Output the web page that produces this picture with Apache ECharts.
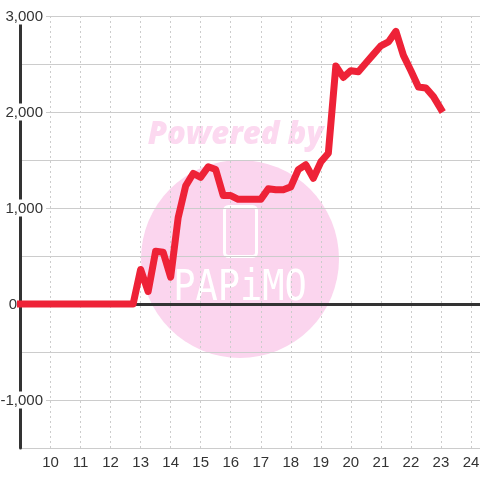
<!DOCTYPE html>
<html>
<head>
<meta charset="utf-8">
<style>html,body{margin:0;padding:0;background:#fff}#c{width:480px;height:480px}</style>
<script src="https://cdn.jsdelivr.net/npm/echarts@6/dist/echarts.min.js"></script>
</head>
<body>
<div id="c"></div>
<script>
const hours = [9,9.25,9.5,9.75,10,10.25,10.5,10.75,11,11.25,11.5,11.75,12,12.25,12.5,12.75,13,13.25,13.5,13.75,14,14.25,14.5,14.75,15,15.25,15.5,15.75,16,16.25,16.5,16.75,17,17.25,17.5,17.75,18,18.25,18.5,18.75,19,19.25,19.5,19.75,20,20.25,20.5,20.75,21,21.25,21.5,21.75,22,22.25,22.5,22.75,23];
const values = [0,0,0,0,0,0,0,0,0,0,0,0,0,0,0,0,360,130,550,540,280,900,1230,1360,1320,1430,1400,1130,1130,1090,1090,1090,1090,1200,1190,1190,1220,1400,1450,1310,1480,1570,2480,2360,2430,2420,2510,2600,2690,2730,2840,2590,2430,2260,2250,2160,2030];
const yTickLabels = [-1000,0,1000,2000,3000];
const xTickLabels = [10,11,12,13,14,15,16,17,18,19,20,21,22,23,24];
const labelFont = {color:'#333',fontFamily:'Liberation Sans',fontSize:15};
const chart = echarts.init(document.getElementById('c'), null, {renderer:'canvas'});
chart.setOption({
  animation:false,
  backgroundColor:'#fff',
  grid:{left:20.5,right:0,top:16,bottom:32,containLabel:false,outerBoundsMode:'none'},
  graphic:[
    {type:'circle',z:0,silent:true,shape:{cx:240,cy:259,r:99},style:{fill:'#fbd5ee'}},
    {type:'text',z:0,silent:true,x:235.5,y:135,style:{text:'Powered by',font:'italic 800 31px "Open Sans"',fill:'#fcd9f0',align:'center',verticalAlign:'middle'}},
    {type:'rect',z:0,silent:true,shape:{x:224.5,y:206.5,width:32,height:50,r:4},style:{fill:'none',stroke:'#fff',lineWidth:3}},
    {type:'text',z:0,silent:true,x:240,y:289,scaleY:1.15,style:{text:'PAPiMO',font:'37px "DejaVu Sans Mono"',fill:'#fff',align:'center',verticalAlign:'middle'}}
  ],
  xAxis:{type:'value',min:9,max:24.3,interval:1,
    axisLine:{show:false},axisTick:{show:false},
    axisLabel:{customValues:xTickLabels,color:'#333',fontFamily:'Liberation Sans',fontSize:15,margin:7},
    splitLine:{show:false}},
  yAxis:{type:'value',min:-1500,max:3000,interval:500,
    axisLine:{show:true,onZero:false,lineStyle:{color:'#333',width:3}},axisTick:{show:false},
    axisLabel:{inside:true,align:'right',margin:25.5,customValues:yTickLabels,...labelFont,
      formatter:v=>Number(v)===0?'{z|0}':'{b|'+Number(v).toLocaleString('en-US')+'}',
      rich:{b:{...labelFont,backgroundColor:'#fff',padding:[2,3,0,2]},z:{...labelFont,padding:[2,29,0,0]}}},
    splitLine:{show:true,lineStyle:{color:'#ccc',width:1}}},
  series:[
    {type:'line',silent:true,symbol:'none',data:xTickLabels.map(h=>[h,3000]),lineStyle:{width:0},z:1,
      markLine:{z:1,silent:true,symbol:'none',label:{show:false},animation:false,lineStyle:{color:'#ccc',width:1,type:[2,3]},data:xTickLabels.map(h=>({xAxis:h}))}},
    {type:'line',silent:true,symbol:'none',data:[],z:2,
      markLine:{z:2,silent:true,symbol:'none',label:{show:false},animation:false,lineStyle:{color:'#333',width:3,type:'solid'},data:[{yAxis:0}]}},
    {type:'line',symbol:'none',showSymbol:false,clip:false,z:6,data:hours.map((h,i)=>[h,values[i]]),
      lineStyle:{color:'#ee2237',width:7,cap:'square',join:'round'}}
  ]
});
</script>
</body>
</html>
